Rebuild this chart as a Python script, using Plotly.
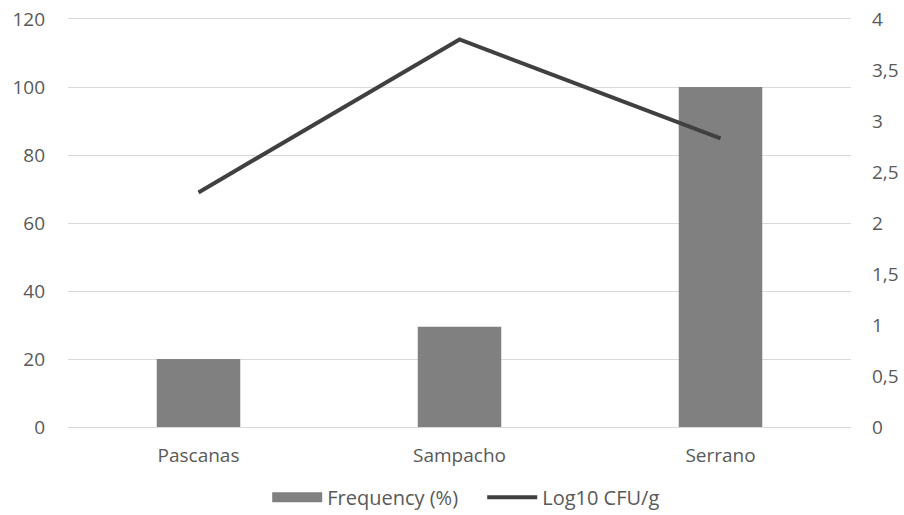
import plotly.graph_objects as go

# Sampling sites and measured values
sites = ["Pascanas", "Sampacho", "Serrano"]
frequency_pct = [20, 29.5, 100]
log10_cfu = [2.3, 3.8, 2.83]

left_ticks = [0, 20, 40, 60, 80, 100, 120]
right_ticks = [0, 0.5, 1, 1.5, 2, 2.5, 3, 3.5, 4]

font_family = "Open Sans, DejaVu Sans, sans-serif"
text_color = "#595959"
grid_color = "#d9d9d9"
bar_color = "#808080"
line_color = "#404040"
fsize = 19

fig = go.Figure()

fig.add_trace(go.Bar(
    x=sites, y=frequency_pct, name="Frequency (%)",
    marker=dict(color=bar_color, line=dict(width=0)),
    width=0.32, yaxis="y", showlegend=False,
))

# legend key for the bars drawn as a wide flat block
fig.add_trace(go.Scatter(
    x=[None], y=[None], name="Frequency (%)", mode="lines",
    line=dict(color=bar_color, width=13), yaxis="y",
))

fig.add_trace(go.Scatter(
    x=sites, y=log10_cfu, name="Log10 CFU/g",
    mode="lines", line=dict(color=line_color, width=4),
    yaxis="y2",
))

fig.update_layout(
    width=904, height=515,
    margin=dict(l=68, r=53, t=19, b=88, autoexpand=False),
    paper_bgcolor="white", plot_bgcolor="white",
    separators=",.",
    font=dict(family=font_family, size=fsize, color=text_color),
    showlegend=True,
    legend=dict(
        orientation="h", x=0.529, xanchor="center", y=-0.172, yanchor="middle",
        font=dict(size=20, color=text_color), itemwidth=50,
        entrywidth=150, traceorder="normal",
    ),
    xaxis=dict(
        showgrid=False, zeroline=False, ticks="",
        showline=True, mirror=True, linecolor=grid_color, linewidth=1,
        tickfont=dict(size=fsize, color=text_color), ticklabelstandoff=11,
    ),
    yaxis=dict(
        range=[0, 120], tickvals=left_ticks, showgrid=True, gridcolor=grid_color,
        gridwidth=1, zeroline=True, zerolinecolor=grid_color, zerolinewidth=1,
        showline=False, ticks="",
        tickfont=dict(size=fsize, color=text_color), ticklabelstandoff=22,
    ),
    yaxis2=dict(
        range=[0, 4], tickvals=right_ticks, overlaying="y", side="right",
        showgrid=False, zeroline=False, showline=False, ticks="",
        tickfont=dict(size=fsize, color=text_color), ticklabelstandoff=20,
    ),
)

fig.write_html("out.html")
